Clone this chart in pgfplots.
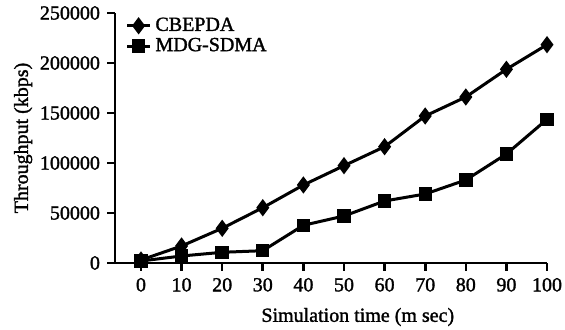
\documentclass[border=0pt]{standalone}
\usepackage{pgfplots}
\pgfplotsset{compat=1.18}
\usepackage{fontspec}
\setmainfont{Liberation Serif}[FakeBold=1.5]
\begin{document}
\begin{tikzpicture}
\begin{axis}[
  name=ax,
  scale only axis=true,
  width=216pt, height=125pt,
  xmin=-6.4, xmax=100,
  ymin=0, ymax=250000,
  axis lines*=left,
  axis line style={line width=1.3pt},
  xtick={0,10,...,100},
  ytick={0,50000,...,250000},
  tick style={line width=1.3pt, black},
  tick align=outside,
  major tick length=4pt,
  scaled y ticks=false,
  /pgf/number format/assume math mode=true,
  yticklabel style={/pgf/number format/fixed, /pgf/number format/1000 sep={}},
  ticklabel style={font=\fontsize{10}{12}\selectfont},
  xlabel={Simulation time (m sec)},
  ylabel={Throughput (kbps)},
  label style={font=\fontsize{10}{12}\selectfont},
  xlabel style={at={(axis description cs:0.562,0)}, anchor=center, yshift=-27pt},
  ylabel style={yshift=-3pt},
  legend style={at={(0.01,1.015)}, anchor=north west, draw=none, fill=none, font=\fontsize{10}{12}\selectfont, row sep=-2pt},
  legend cell align=left,
  legend image code/.code={\draw[mark repeat=2,mark phase=2] plot coordinates {(0cm,0cm)(0.2cm,0cm)(0.4cm,0cm)};},
]
\addplot[black, line width=1.5pt, mark=diamond*, mark size=3.1pt, mark options={solid}] coordinates {
(0,3000) (10,17000) (20,34700) (30,55300) (40,78000) (50,97300) (60,116300) (70,147000) (80,166000) (90,193700) (100,218300)
};
\addlegendentry{CBEPDA}
\addplot[black, line width=1.5pt, mark=square*, mark size=2.6pt, mark options={solid}] coordinates {
(0,2000) (10,7000) (20,10700) (30,12300) (40,37700) (50,47000) (60,62000) (70,69000) (80,83000) (90,109000) (100,143700)
};
\addlegendentry{MDG-SDMA}
\end{axis}
\pgfresetboundingbox
\path (ax.south west) ++(-57.5pt,-33.5pt) rectangle ++(282.5pt,165pt);
\end{tikzpicture}
\end{document}
